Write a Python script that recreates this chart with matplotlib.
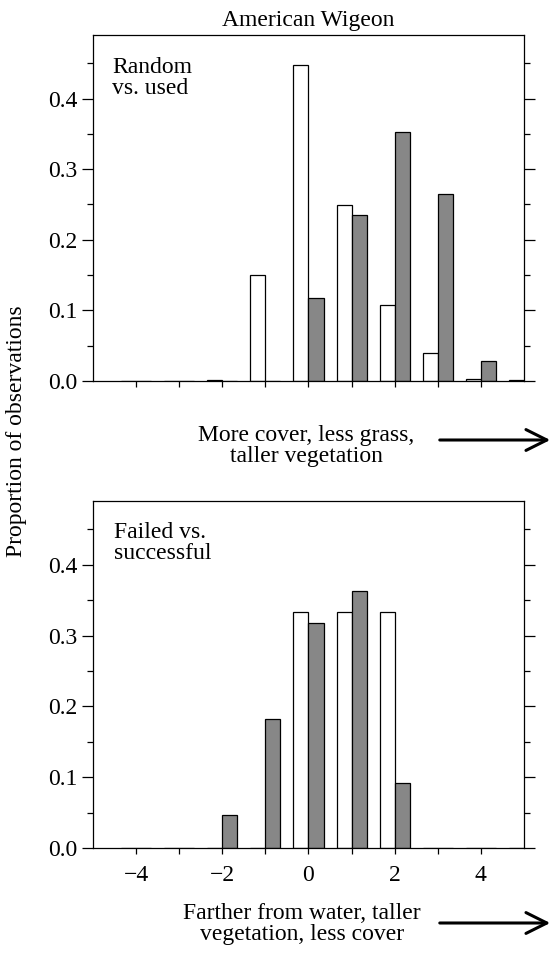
import matplotlib
matplotlib.use("Agg")
import matplotlib.pyplot as plt
import numpy as np

plt.rcParams['font.family'] = ['Liberation Serif', 'DejaVu Serif']

# ---- data ----
bins = [-4, -3, -2, -1, 0, 1, 2, 3, 4, 5]
top_random = [0.0, 0.0, 0.002, 0.150, 0.447, 0.249, 0.108, 0.039, 0.003, 0.002]
top_used = [0.0, 0.0, 0.0, 0.0, 0.117, 0.235, 0.353, 0.265, 0.028, 0.0]
bot_failed = [0.0, 0.0, 0.0, 0.0, 0.333, 0.333, 0.333, 0.0, 0.0, 0.0]
bot_success = [0.0, 0.0, 0.046, 0.182, 0.318, 0.363, 0.092, 0.0, 0.0, 0.0]
title = "American Wigeon"
ylabel = "Proportion of observations"
top_note = "Random\nvs. used"
bot_note = "Failed vs.\nsuccessful"
top_xlabel = "More cover, less grass,\ntaller vegetation"
bot_xlabel = "Farther from water, taller\nvegetation, less cover"
xtick_labels = [-4, -2, 0, 2, 4]

W, H = 554, 955
fig = plt.figure(figsize=(W / 100, H / 100), dpi=100)
FS = 17
GRAY = '#878787'

def px(x0, y0, x1, y1):
    return [x0 / W, 1 - y1 / H, (x1 - x0) / W, (y1 - y0) / H]

ax1 = fig.add_axes(px(93, 35, 524, 381))
ax2 = fig.add_axes(px(93, 501, 524, 848))

def style(ax, white, gray, labels):
    ax.bar(bins, white, width=-0.35, align='edge', facecolor='white',
           edgecolor='black', linewidth=0.9, zorder=2)
    ax.bar(bins, gray, width=0.35, align='edge', facecolor=GRAY,
           edgecolor='black', linewidth=0.9, zorder=2)
    ax.set_xlim(-5, 5)
    ax.set_ylim(0, 0.49)
    ax.set_yticks([0.0, 0.1, 0.2, 0.3, 0.4])
    ax.set_yticks(np.arange(0.05, 0.46, 0.1), minor=True)
    ax.set_xticks(range(-4, 5))
    if labels:
        ax.set_xticklabels([("\u2212%d" % -v if v < 0 else "%d" % v) if v in xtick_labels else ""
                            for v in range(-4, 5)])
    else:
        ax.set_xticklabels([])
    ax.set_yticklabels(["0.0", "0.1", "0.2", "0.3", "0.4"])
    ax.tick_params(axis='y', which='major', direction='out', length=8, width=0.9,
                   left=True, right=True, labelsize=FS, pad=3.5)
    ax.tick_params(axis='y', which='minor', direction='out', length=4.5, width=0.9,
                   left=True, right=True)
    ax.tick_params(axis='x', which='major', direction='out', length=4, width=0.9,
                   labelsize=FS, pad=8)
    for s in ax.spines.values():
        s.set_linewidth(0.9)

style(ax1, top_random, top_used, False)
style(ax2, bot_failed, bot_success, True)

ax1.text(0.044, 0.936, top_note, transform=ax1.transAxes, ha='left', va='top',
         fontsize=FS, linespacing=1.0)
ax2.text(0.049, 0.939, bot_note, transform=ax2.transAxes, ha='left', va='top',
         fontsize=FS, linespacing=1.0)

fig.text(308.5 / W, 1 - 26 / H, title, ha='center', va='baseline', fontsize=FS)
fig.text(17 / W, 1 - 431 / H, ylabel, rotation=90, ha='center', va='center', fontsize=FS)

fig.text(306 / W, 1 - 425 / H, top_xlabel, ha='center', va='top', fontsize=FS,
         linespacing=1.0, multialignment='center')
fig.text(302 / W, 1 - 903 / H, bot_xlabel, ha='center', va='top', fontsize=FS,
         linespacing=1.0, multialignment='center')

for yy in (440, 923):
    fig.add_artist(matplotlib.patches.FancyArrowPatch(
        (437 / W, 1 - yy / H), (553 / W, 1 - yy / H), transform=fig.transFigure,
        arrowstyle='->,head_length=10,head_width=5', linewidth=2.2, color='black',
        mutation_scale=1.5))

fig.savefig("out.png", dpi=100)
